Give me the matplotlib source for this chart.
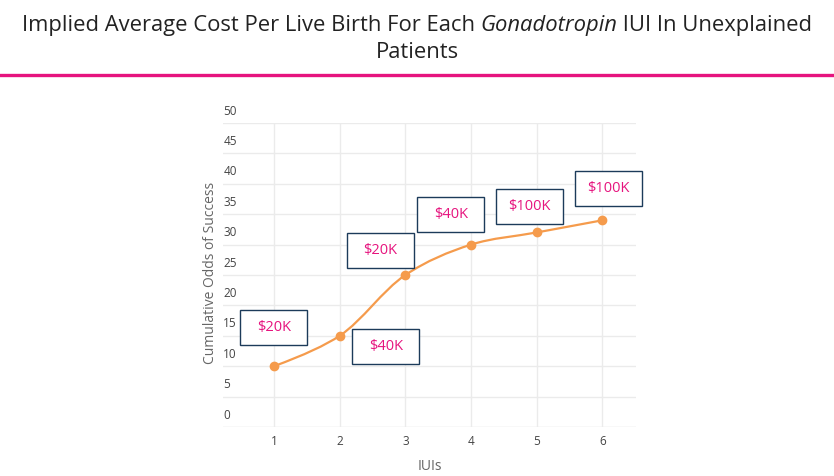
import numpy as np
import matplotlib.pyplot as plt
from matplotlib.path import Path
from matplotlib.patches import PathPatch, Rectangle
from matplotlib.lines import Line2D

plt.rcParams['font.family'] = ['Open Sans', 'DejaVu Sans']

ORANGE = "#f59b4c"
PINK = "#e6147e"
NAVY = "#1c3b5a"
GRID = "#ebebeb"

iuis = [1, 2, 3, 4, 5, 6]
odds = [10, 15, 25, 30, 32, 34]
cost_labels = ["$20K", "$40K", "$20K", "$40K", "$100K", "$100K"]
# where each cost box sits (data coords of its centre)
label_x = [1.0, 2.70, 2.62, 3.69, 4.89, 6.09]
label_y = [16.3, 13.2, 29.1, 34.9, 36.3, 39.2]

W, H = 834, 476
fig = plt.figure(figsize=(W / 100, H / 100), dpi=100)
ax = fig.add_axes([223 / W, 1 - 427 / H, (636 - 223) / W, (427 - 123) / H])
xmin, xmax, ymin, ymax = 0.224, 6.51, 0, 50
ax.set_xlim(xmin, xmax)
ax.set_ylim(ymin, ymax)
px_x = (636 - 223) / (xmax - xmin)
px_y = (427 - 123) / (ymax - ymin)


def spline_path(xs, ys, smooth=1.0):
    # plotly-style smooth line, computed in pixel space
    pts = np.column_stack([np.array(xs) * px_x, np.array(ys) * px_y])
    tang = []
    for i in range(1, len(pts) - 1):
        d1 = pts[i - 1] - pts[i]
        d2 = pts[i + 1] - pts[i]
        d1a = np.hypot(*d1) ** 0.5
        d2a = np.hypot(*d2) ** 0.5
        num = (d2a ** 2 * d1 - d1a ** 2 * d2) * smooth
        den1 = 3 * d2a * (d1a + d2a)
        den2 = 3 * d1a * (d1a + d2a)
        tang.append((pts[i] + num / den1, pts[i] - num / den2))
    verts = [pts[0], tang[0][0], pts[1]]
    codes = [Path.MOVETO, Path.CURVE3, Path.CURVE3]
    for i in range(2, len(pts) - 1):
        verts += [tang[i - 2][1], tang[i - 1][0], pts[i]]
        codes += [Path.CURVE4] * 3
    verts += [tang[-1][1], pts[-1]]
    codes += [Path.CURVE3] * 2
    verts = np.array(verts) / [px_x, px_y]
    return Path(verts, codes)


for y in range(0, 51, 5):
    ax.axhline(y, color=GRID if y else "#e0e0e0", lw=1, zorder=0)
    ax.text(xmin + 0.005, y + 0.9, str(y), fontsize=8.5, color="#444444",
            ha="left", va="bottom")
for x in iuis:
    ax.axvline(x, color=GRID, lw=1, zorder=0)

ax.add_patch(PathPatch(spline_path(iuis, odds), fill=False, edgecolor=ORANGE,
                       lw=1.6, zorder=2))
ax.plot(iuis, odds, "o", color=ORANGE, ms=6, mec=ORANGE, zorder=3)

bw, bh = 67 / px_x, 35 / px_y
for lx, ly, txt in zip(label_x, label_y, cost_labels):
    ax.add_patch(Rectangle((lx - bw / 2, ly - bh / 2), bw, bh, fill=True,
                           facecolor="white", edgecolor=NAVY, lw=1, zorder=4,
                           clip_on=False))
    ax.text(lx, ly, txt, color=PINK, fontsize=10.5, ha="center", va="center",
            zorder=5)

for s in ax.spines.values():
    s.set_visible(False)
ax.set_xticks(iuis)
ax.set_xticklabels([str(i) for i in iuis], fontsize=8.5, color="#444444")
ax.tick_params(axis="x", length=0, pad=6)
ax.set_yticks([])
ax.set_xlabel("IUIs", fontsize=10, color="#666666", labelpad=8)
fig.text(211 / W, 1 - 273 / H, "Cumulative Odds of Success", rotation=90,
         fontsize=10, color="#666666", ha="center", va="center")

# title line 1 with an italic word, built from pieces
parts = [("Implied Average Cost Per Live Birth For Each ", "normal"),
         ("Gonadotropin", "italic"), (" IUI In Unexplained", "normal")]
renderer = fig.canvas.get_renderer()
widths = []
objs = []
for s, st in parts:
    o = fig.text(0, 1 - 25 / H, s, fontsize=15.8, style=st, color="#222222",
                 va="center", ha="left")
    objs.append(o)
    widths.append(o.get_window_extent(renderer).width)
x0 = (W - sum(widths)) / 2
for o, w in zip(objs, widths):
    o.set_x(x0 / W)
    x0 += w
fig.text(0.5, 1 - 52 / H, "Patients", fontsize=15.8, color="#222222",
         ha="center", va="center")
fig.add_artist(Line2D([0, 1], [1 - 74.5 / H, 1 - 74.5 / H], color=PINK, lw=2.4))

fig.savefig("out.png", dpi=100)
